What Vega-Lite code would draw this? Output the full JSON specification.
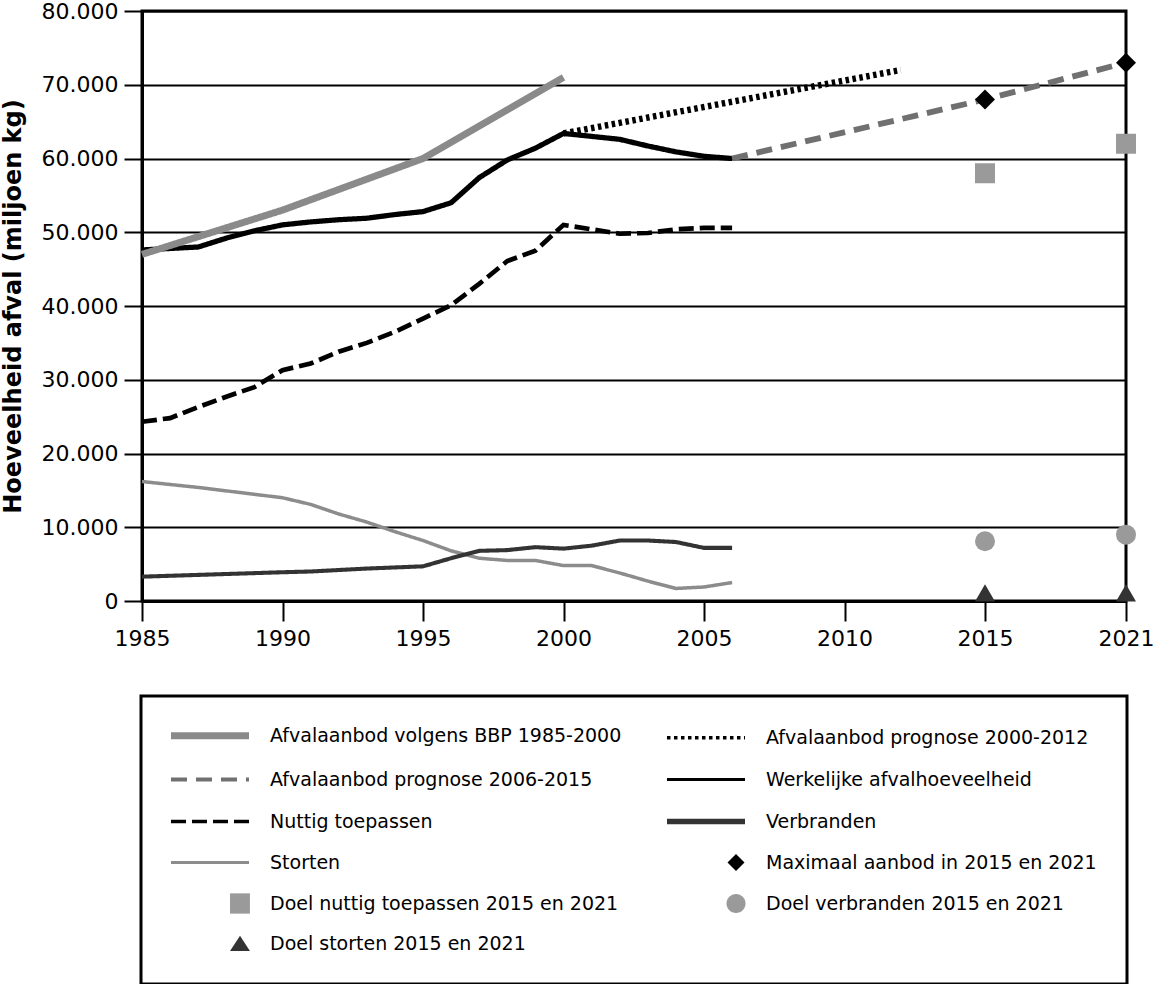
{
  "$schema": "https://vega.github.io/schema/vega-lite/v6.json",
  "autosize": {"type": "none"},
  "padding": {"left": 142, "top": 11, "right": 28, "bottom": 383},
  "width": 984,
  "height": 590,
  "config": {
    "font": "DejaVu Sans",
    "view": {"stroke": "black", "strokeWidth": 3}
  },
  "datasets": {
    "lines": [
      {"s": "Storten", "year": 1985, "v": 16200},
      {"s": "Storten", "year": 1987, "v": 15400},
      {"s": "Storten", "year": 1990, "v": 14000},
      {"s": "Storten", "year": 1991, "v": 13100},
      {"s": "Storten", "year": 1992, "v": 11800},
      {"s": "Storten", "year": 1993, "v": 10700},
      {"s": "Storten", "year": 1994, "v": 9400},
      {"s": "Storten", "year": 1995, "v": 8200},
      {"s": "Storten", "year": 1996, "v": 6800},
      {"s": "Storten", "year": 1997, "v": 5800},
      {"s": "Storten", "year": 1998, "v": 5500},
      {"s": "Storten", "year": 1999, "v": 5500},
      {"s": "Storten", "year": 2000, "v": 4800},
      {"s": "Storten", "year": 2001, "v": 4800},
      {"s": "Storten", "year": 2002, "v": 3800},
      {"s": "Storten", "year": 2003, "v": 2700},
      {"s": "Storten", "year": 2004, "v": 1700},
      {"s": "Storten", "year": 2005, "v": 1900},
      {"s": "Storten", "year": 2006, "v": 2500},
      {"s": "Verbranden", "year": 1985, "v": 3300},
      {"s": "Verbranden", "year": 1990, "v": 3900},
      {"s": "Verbranden", "year": 1991, "v": 4000},
      {"s": "Verbranden", "year": 1993, "v": 4400},
      {"s": "Verbranden", "year": 1995, "v": 4700},
      {"s": "Verbranden", "year": 1996, "v": 5800},
      {"s": "Verbranden", "year": 1997, "v": 6800},
      {"s": "Verbranden", "year": 1998, "v": 6900},
      {"s": "Verbranden", "year": 1999, "v": 7300},
      {"s": "Verbranden", "year": 2000, "v": 7100},
      {"s": "Verbranden", "year": 2001, "v": 7500},
      {"s": "Verbranden", "year": 2002, "v": 8200},
      {"s": "Verbranden", "year": 2003, "v": 8200},
      {"s": "Verbranden", "year": 2004, "v": 8000},
      {"s": "Verbranden", "year": 2005, "v": 7200},
      {"s": "Verbranden", "year": 2006, "v": 7200},
      {"s": "Nuttig toepassen", "year": 1985, "v": 24300},
      {"s": "Nuttig toepassen", "year": 1986, "v": 24800},
      {"s": "Nuttig toepassen", "year": 1987, "v": 26300},
      {"s": "Nuttig toepassen", "year": 1988, "v": 27700},
      {"s": "Nuttig toepassen", "year": 1989, "v": 29000},
      {"s": "Nuttig toepassen", "year": 1990, "v": 31300},
      {"s": "Nuttig toepassen", "year": 1991, "v": 32200},
      {"s": "Nuttig toepassen", "year": 1992, "v": 33800},
      {"s": "Nuttig toepassen", "year": 1993, "v": 35000},
      {"s": "Nuttig toepassen", "year": 1994, "v": 36500},
      {"s": "Nuttig toepassen", "year": 1995, "v": 38300},
      {"s": "Nuttig toepassen", "year": 1996, "v": 40100},
      {"s": "Nuttig toepassen", "year": 1997, "v": 43000},
      {"s": "Nuttig toepassen", "year": 1998, "v": 46100},
      {"s": "Nuttig toepassen", "year": 1999, "v": 47500},
      {"s": "Nuttig toepassen", "year": 2000, "v": 51000},
      {"s": "Nuttig toepassen", "year": 2001, "v": 50400},
      {"s": "Nuttig toepassen", "year": 2002, "v": 49800},
      {"s": "Nuttig toepassen", "year": 2003, "v": 49900},
      {"s": "Nuttig toepassen", "year": 2004, "v": 50400},
      {"s": "Nuttig toepassen", "year": 2005, "v": 50600},
      {"s": "Nuttig toepassen", "year": 2006, "v": 50600},
      {"s": "Werkelijke afvalhoeveelheid", "year": 1985, "v": 47600},
      {"s": "Werkelijke afvalhoeveelheid", "year": 1986, "v": 47800},
      {"s": "Werkelijke afvalhoeveelheid", "year": 1987, "v": 48000},
      {"s": "Werkelijke afvalhoeveelheid", "year": 1988, "v": 49200},
      {"s": "Werkelijke afvalhoeveelheid", "year": 1989, "v": 50200},
      {"s": "Werkelijke afvalhoeveelheid", "year": 1990, "v": 51000},
      {"s": "Werkelijke afvalhoeveelheid", "year": 1991, "v": 51400},
      {"s": "Werkelijke afvalhoeveelheid", "year": 1992, "v": 51700},
      {"s": "Werkelijke afvalhoeveelheid", "year": 1993, "v": 51900},
      {"s": "Werkelijke afvalhoeveelheid", "year": 1994, "v": 52400},
      {"s": "Werkelijke afvalhoeveelheid", "year": 1995, "v": 52800},
      {"s": "Werkelijke afvalhoeveelheid", "year": 1996, "v": 54000},
      {"s": "Werkelijke afvalhoeveelheid", "year": 1997, "v": 57400},
      {"s": "Werkelijke afvalhoeveelheid", "year": 1998, "v": 59800},
      {"s": "Werkelijke afvalhoeveelheid", "year": 1999, "v": 61400},
      {"s": "Werkelijke afvalhoeveelheid", "year": 2000, "v": 63400},
      {"s": "Werkelijke afvalhoeveelheid", "year": 2001, "v": 63000},
      {"s": "Werkelijke afvalhoeveelheid", "year": 2002, "v": 62600},
      {"s": "Werkelijke afvalhoeveelheid", "year": 2003, "v": 61700},
      {"s": "Werkelijke afvalhoeveelheid", "year": 2004, "v": 60900},
      {"s": "Werkelijke afvalhoeveelheid", "year": 2005, "v": 60300},
      {"s": "Werkelijke afvalhoeveelheid", "year": 2006, "v": 60000},
      {"s": "Afvalaanbod prognose 2000-2012", "year": 2000, "v": 63400},
      {"s": "Afvalaanbod prognose 2000-2012", "year": 2012, "v": 72000},
      {"s": "Afvalaanbod prognose 2006-2015", "year": 2006, "v": 60000},
      {"s": "Afvalaanbod prognose 2006-2015", "year": 2015, "v": 68000},
      {"s": "Afvalaanbod prognose 2006-2015", "year": 2021, "v": 73000},
      {"s": "Afvalaanbod volgens BBP 1985-2000", "year": 1985, "v": 47000},
      {"s": "Afvalaanbod volgens BBP 1985-2000", "year": 1990, "v": 53000},
      {"s": "Afvalaanbod volgens BBP 1985-2000", "year": 1995, "v": 60000},
      {"s": "Afvalaanbod volgens BBP 1985-2000", "year": 2000, "v": 71000}
    ],
    "points": [
      {"s": "Maximaal aanbod in 2015 en 2021", "year": 2015, "v": 68000},
      {"s": "Maximaal aanbod in 2015 en 2021", "year": 2021, "v": 73000},
      {"s": "Doel nuttig toepassen 2015 en 2021", "year": 2015, "v": 58000},
      {"s": "Doel nuttig toepassen 2015 en 2021", "year": 2021, "v": 62000},
      {"s": "Doel verbranden 2015 en 2021", "year": 2015, "v": 8100},
      {"s": "Doel verbranden 2015 en 2021", "year": 2021, "v": 9000},
      {"s": "Doel storten 2015 en 2021", "year": 2015, "v": 1100},
      {"s": "Doel storten 2015 en 2021", "year": 2021, "v": 1100}
    ]
  },
  "encoding": {
    "x": {
      "field": "year", "type": "quantitative",
      "scale": {"type": "linear", "domain": [1985, 2015, 2021], "range": [0, 843, 984], "nice": false, "zero": false},
      "axis": {
        "values": [1985, 1990, 1995, 2000, 2005, 2010, 2015, 2021],
        "format": "d", "title": null, "grid": false,
        "labelFontSize": 22, "labelColor": "black", "labelPadding": 7,
        "tickSize": 20, "tickWidth": 2, "tickColor": "black",
        "domainColor": "black", "domainWidth": 3, "labelFlush": false, "labelOverlap": false
      }
    },
    "y": {
      "field": "v", "type": "quantitative",
      "scale": {"domain": [0, 80000], "nice": false},
      "axis": {
        "values": [0, 10000, 20000, 30000, 40000, 50000, 60000, 70000, 80000],
        "labelExpr": "replace(format(datum.value, ','), ',', '.')",
        "title": "Hoeveelheid afval (miljoen kg)",
        "titleFontSize": 24, "titleFontWeight": "bold", "titleColor": "black",
        "titleX": -117, "titleBaseline": "bottom",
        "grid": true, "gridColor": "black", "gridWidth": 2, "gridOpacity": 1,
        "labelFontSize": 22, "labelColor": "black", "labelPadding": 6,
        "tickSize": 18, "tickWidth": 2, "tickColor": "black",
        "domainColor": "black", "domainWidth": 3, "labelFlush": false, "labelOverlap": false
      }
    }
  },
  "layer": [
    {
      "data": {"name": "lines"},
      "mark": {"type": "line", "strokeCap": "butt"},
      "encoding": {
        "color": {
          "field": "s", "type": "nominal",
          "scale": {
            "domain": ["Afvalaanbod volgens BBP 1985-2000", "Afvalaanbod prognose 2006-2015", "Nuttig toepassen", "Storten", "Doel nuttig toepassen 2015 en 2021", "Doel storten 2015 en 2021", "Afvalaanbod prognose 2000-2012", "Werkelijke afvalhoeveelheid", "Verbranden", "Maximaal aanbod in 2015 en 2021", "Doel verbranden 2015 en 2021"],
            "range": ["#8a8a8a", "#707070", "#000000", "#8c8c8c", "#9a9a9a", "#333333", "#000000", "#000000", "#333333", "#000000", "#9a9a9a"]
          },
          "legend": {
            "orient": "none", "legendX": -1, "legendY": 685,
            "direction": "vertical", "columns": 2,
            "columnPadding": 33, "rowPadding": 20, "padding": 30,
            "strokeColor": "black", "title": null,
            "symbolSize": 6084, "symbolType": "stroke", "labelOffset": 80,
            "labelFontSize": 19, "labelColor": "black", "labelLimit": 600,
            "encode": {
              "legend": {"update": {"strokeWidth": {"value": 3}}},
              "symbols": {
                "update": {
                  "shape": {"signal": "['M-0.244,0L1.756,0','M-0.244,0L1.756,0','M-0.244,0L1.756,0','M-0.244,0L1.756,0','M1.27,-0.26H1.78V0.26H1.27Z','M1.526,-0.2L1.78,0.19L1.27,0.19Z','M-0.244,0L1.756,0','M-0.244,0L1.756,0','M-0.244,0L1.756,0','M1.526,-0.218L1.744,0L1.526,0.218L1.308,0Z','M1.282,0A0.244,0.244,0,1,1,1.77,0A0.244,0.244,0,1,1,1.282,0Z'][datum.index]"},
                  "stroke": {"signal": "['#8a8a8a','#707070','#000000','#8c8c8c','transparent','transparent','#000000','#000000','#333333','transparent','transparent'][datum.index]"},
                  "fill": {"signal": "['transparent','transparent','transparent','transparent','#9a9a9a','#333333','transparent','transparent','transparent','#000000','#9a9a9a'][datum.index]"},
                  "strokeWidth": {"signal": "isValid(datum.index) && datum.index >= 0 && datum.index < 11 ? [7,4,3.5,3,0,0,3.5,3,5.5,0,0][datum.index] : 4"},
                  "strokeDash": {"signal": "[[1,0],[16,9],[15,6],[1,0],[1,0],[1,0],[3.5,3.5],[1,0],[1,0],[1,0],[1,0]][datum.index]"},
                  "opacity": {"value": 1}
                }
              }
            }
          }
        },
        "strokeDash": {
          "field": "s", "type": "nominal",
          "scale": {
            "domain": ["Afvalaanbod volgens BBP 1985-2000", "Afvalaanbod prognose 2000-2012", "Afvalaanbod prognose 2006-2015", "Werkelijke afvalhoeveelheid", "Nuttig toepassen", "Verbranden", "Storten"],
            "range": [[1, 0], [3.5, 3.5], [16, 9], [1, 0], [15, 6], [1, 0], [1, 0]]
          },
          "legend": null
        },
        "strokeWidth": {
          "field": "s", "type": "nominal",
          "scale": {
            "domain": ["Afvalaanbod volgens BBP 1985-2000", "Afvalaanbod prognose 2000-2012", "Afvalaanbod prognose 2006-2015", "Werkelijke afvalhoeveelheid", "Nuttig toepassen", "Verbranden", "Storten"],
            "range": [7, 3.5, 4, 3, 3.5, 5.5, 3]
          },
          "legend": null
        }
      }
    },
    {
      "data": {"name": "points"},
      "mark": {"type": "point", "filled": true, "opacity": 1, "size": 400},
      "encoding": {
        "color": {"field": "s", "type": "nominal"},
        "shape": {
          "field": "s", "type": "nominal",
          "scale": {
            "domain": ["Maximaal aanbod in 2015 en 2021", "Doel nuttig toepassen 2015 en 2021", "Doel verbranden 2015 en 2021", "Doel storten 2015 en 2021"],
            "range": ["diamond", "square", "circle", "triangle-up"]
          },
          "legend": null
        }
      }
    }
  ]
}
